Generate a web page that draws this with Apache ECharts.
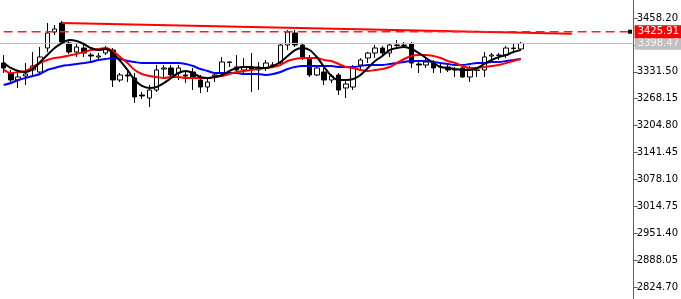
<!DOCTYPE html>
<html><head><meta charset="utf-8">
<script src="https://cdn.jsdelivr.net/npm/echarts@6/dist/echarts.min.js"></script>
<style>html,body{margin:0;padding:0;background:#fff}#c{width:681px;height:299px}</style>
</head><body><div id="c"></div>
<script>
// Candle values (price)
const openP  = [3352.2,3328.7,3312.2,3321.6,3335.8,3331.0,3387.5,3425.2,3446.4,3399.3,3378.1,3387.5,3371.1,3366.4,3375.8,3382.8,3312.2,3324.0,3316.9,3276.9,3269.8,3288.6,3338.1,3340.5,3328.7,3324.0,3331.0,3312.2,3295.7,3321.6,3328.7,3354.6,3342.8,3335.8,3340.5,3335.8,3340.5,3346.4,3352.2,3394.6,3422.9,3394.6,3364.0,3324.0,3331.0,3312.2,3324.0,3293.4,3295.7,3347.5,3364.0,3375.8,3387.5,3375.8,3394.6,3393.4,3397.0,3349.9,3347.5,3352.2,3342.8,3342.8,3335.8,3340.5,3319.3,3334.6,3335.8,3368.7,3369.9,3371.1,3386.3,3385.2];
const closeP = [3340.5,3312.2,3319.3,3326.3,3345.2,3366.4,3422.9,3432.3,3401.7,3378.1,3389.9,3375.8,3368.7,3368.7,3387.5,3312.2,3324.0,3321.6,3272.2,3274.5,3288.6,3335.8,3340.5,3324.0,3340.5,3321.6,3316.9,3295.7,3307.5,3324.0,3354.6,3353.5,3335.8,3342.8,3338.1,3342.8,3352.2,3347.5,3394.6,3425.2,3394.6,3366.4,3324.0,3340.5,3312.2,3321.6,3288.6,3302.8,3340.5,3359.3,3375.8,3387.5,3375.8,3394.6,3393.4,3394.6,3352.2,3347.5,3354.6,3340.5,3344.0,3335.8,3337.0,3319.3,3340.5,3335.8,3366.4,3371.1,3371.1,3387.5,3387.5,3398.47];
const lowP   = [3328.7,3305.1,3293.4,3300.4,3324.0,3328.7,3378.1,3418.2,3397.0,3373.4,3366.4,3366.4,3354.6,3359.3,3371.1,3295.7,3307.5,3307.5,3258.0,3267.5,3248.6,3283.9,3319.3,3319.3,3312.2,3305.1,3288.6,3281.6,3283.9,3307.5,3319.3,3342.8,3331.0,3324.0,3283.9,3288.6,3333.4,3340.5,3347.5,3382.8,3389.9,3359.3,3319.3,3321.6,3300.4,3305.1,3276.9,3269.8,3288.6,3335.8,3352.2,3364.0,3371.1,3366.4,3387.5,3387.5,3340.5,3328.7,3340.5,3328.7,3328.7,3331.0,3319.3,3316.9,3307.5,3319.3,3319.3,3359.3,3359.3,3364.0,3378.1,3382.8];
const highP  = [3371.1,3335.8,3331.0,3352.2,3378.1,3389.9,3446.4,3441.7,3451.1,3406.4,3399.3,3394.6,3375.8,3375.8,3392.3,3387.5,3328.7,3335.8,3328.7,3283.9,3300.4,3347.5,3347.5,3347.5,3347.5,3331.0,3340.5,3324.0,3316.9,3331.0,3366.4,3355.8,3371.1,3364.0,3375.8,3354.6,3359.3,3354.6,3399.3,3429.9,3429.9,3399.3,3371.1,3345.2,3340.5,3326.3,3328.7,3312.2,3347.5,3364.0,3378.1,3394.6,3392.3,3399.3,3406.4,3401.7,3401.7,3359.3,3364.0,3359.3,3352.2,3347.5,3342.8,3345.2,3345.2,3342.8,3378.1,3375.8,3375.8,3392.3,3397.0,3401.7];
// Moving averages
const maBlack = [3352.2,3340.5,3333.4,3331.0,3338.1,3354.6,3371.1,3387.5,3399.3,3406.4,3404.1,3397.0,3387.5,3382.8,3385.2,3375.8,3357.0,3335.8,3312.2,3298.1,3293.4,3295.7,3305.1,3316.9,3328.7,3333.4,3328.7,3319.3,3316.9,3319.3,3324.0,3333.4,3340.5,3342.8,3342.8,3340.5,3340.5,3345.2,3354.6,3368.7,3382.8,3387.5,3382.8,3366.4,3342.8,3321.6,3312.2,3312.2,3314.5,3324.0,3340.5,3357.0,3368.7,3382.8,3387.5,3389.9,3385.2,3375.8,3364.0,3352.2,3342.8,3340.5,3338.1,3335.8,3335.8,3340.5,3349.9,3359.3,3366.4,3371.1,3378.1,3382.8];
const maRed   = [3335.8,3328.7,3331.0,3333.4,3342.8,3352.2,3359.3,3364.0,3366.4,3369.9,3373.4,3378.1,3382.8,3385.2,3387.5,3380.5,3366.4,3352.2,3335.8,3326.3,3321.6,3319.3,3316.9,3319.3,3319.3,3316.9,3316.9,3316.9,3316.9,3319.3,3321.6,3326.3,3331.0,3333.4,3335.8,3338.1,3340.5,3342.8,3347.5,3357.0,3361.7,3364.0,3364.0,3364.0,3359.3,3357.0,3349.9,3342.8,3340.5,3335.8,3333.4,3335.8,3338.1,3342.8,3352.2,3361.7,3368.7,3371.1,3371.1,3368.7,3364.0,3357.0,3352.2,3345.2,3340.5,3340.5,3342.8,3345.2,3347.5,3352.2,3357.0,3361.7];
const maBlue  = [3300.4,3305.1,3312.2,3316.9,3321.6,3326.3,3335.8,3340.5,3345.2,3347.5,3349.9,3352.2,3354.6,3359.3,3361.7,3364.0,3361.7,3357.0,3354.6,3352.2,3352.2,3352.2,3352.2,3352.2,3352.2,3349.9,3345.2,3338.1,3333.4,3328.7,3328.7,3328.7,3328.7,3326.3,3326.3,3326.3,3324.0,3326.3,3331.0,3338.1,3342.8,3345.2,3345.2,3345.2,3345.2,3345.2,3342.8,3342.8,3342.8,3345.2,3347.5,3347.5,3347.5,3349.9,3352.2,3354.6,3357.0,3357.0,3357.0,3354.6,3352.2,3349.9,3347.5,3347.5,3349.9,3352.2,3352.2,3354.6,3354.6,3357.0,3359.3,3361.7];
// Trend line endpoints (bar index, price)
const trendBars = [8, 78];
const trendPrices = [3446.4, 3421.4];
// Horizontal levels
const levelAlert = 3425.91;
const levelBid = 3398.47;
// Price scale tick labels
const tickValues = [2824.70,2888.05,2951.40,3014.75,3078.10,3141.45,3204.80,3268.15,3331.50,3394.85,3458.20];
const totalBars = 87;

const categories = [];
for (let i = 0; i < totalBars; i++) categories.push(String(i + 1));
const candles = openP.map((o, i) => [o, closeP[i], lowP[i], highP[i]]);

const font = 'DejaVu Sans';
const chart = echarts.init(document.getElementById('c'), null, {renderer: 'canvas'});
chart.setOption({
  animation: false,
  backgroundColor: '#ffffff',
  grid: {left: -2.67, right: 47, top: 0, bottom: 0, containLabel: false},
  xAxis: {type: 'category', data: categories, boundaryGap: true, show: false},
  yAxis: {
    type: 'value', position: 'right', min: 2796.45, max: 3500.59, scale: true,
    splitLine: {show: false},
    axisLine: {show: true, lineStyle: {color: '#606060', width: 1}},
    axisTick: {show: true, length: 4, lineStyle: {color: '#606060'}, customValues: tickValues},
    axisLabel: {show: true, margin: 3, color: '#000', fontFamily: font, fontSize: 10,
      customValues: tickValues, formatter: v => v.toFixed(2)}
  },
  series: [
    {
      type: 'candlestick', data: candles, barWidth: 5, z: 2,
      itemStyle: {color: '#ffffff', color0: '#000000', borderColor: '#000000', borderColor0: '#000000', borderWidth: 1},
      markLine: {
        silent: true, symbol: ['none', 'none'], animation: false,
        lineStyle: {color: '#c0c0c0', type: 'solid', width: 1},
        data: [
          {yAxis: levelBid,
            label: {show: true, position: 'end', distance: 1, formatter: levelBid.toFixed(2),
              backgroundColor: '#c0c0c0', color: '#f4f4f4', fontFamily: font, fontSize: 10, padding: [2, 6, 1, 3]}}
        ]
      }
    },
    {type: 'line', data: maBlue, showSymbol: false, smooth: 0.3, z: 3, lineStyle: {color: '#0000ff', width: 2}},
    {type: 'line', data: maRed, showSymbol: false, smooth: 0.3, z: 4, lineStyle: {color: '#ff0000', width: 2}},
    {type: 'line', data: maBlack, showSymbol: false, smooth: 0.3, z: 5, lineStyle: {color: '#000000', width: 2}},
    {type: 'line', data: trendBars.map((b, i) => [b, trendPrices[i]]), showSymbol: false, z: 6,
      itemStyle: {color: '#ff0000'},
      lineStyle: {color: '#ff0000', width: 2}},
    {type: 'line', data: [[0, levelAlert], [totalBars - 1, levelAlert]], showSymbol: false, z: 7,
      itemStyle: {color: '#ff0000'},
      lineStyle: {color: '#ff2020', width: 1.5, type: [9, 5]},
      markPoint: {
        silent: true, symbol: 'rect', symbolSize: 4, itemStyle: {color: '#000'}, label: {show: false},
        data: [{coord: [totalBars - 1, levelAlert]}]
      },
      markLine: {
        silent: true, symbol: ['none', 'none'], animation: false,
        lineStyle: {color: 'rgba(255,255,255,0)', width: 1, type: 'solid'},
        data: [
          {yAxis: levelAlert,
            label: {show: true, position: 'end', distance: 1, formatter: levelAlert.toFixed(2),
              backgroundColor: '#ff0000', color: '#ffffff', fontFamily: font, fontSize: 10, padding: [2, 6, 1, 3]}}
        ]
      }
    }
  ]
});
</script>
</body></html>
